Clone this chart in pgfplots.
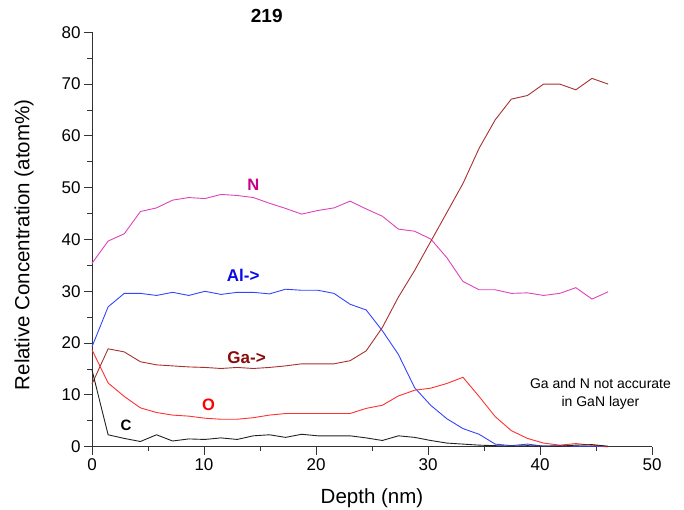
\documentclass[border=0pt]{standalone}
\usepackage{fontspec}
\setmainfont{Liberation Sans}
\usepackage{pgfplots}
\usepackage{pgfplotstable}
\pgfplotsset{compat=1.18}
\definecolor{Ncol}{HTML}{DD44BB}
\definecolor{Nlab}{HTML}{C8008C}
\definecolor{Alcol}{HTML}{3344FF}
\definecolor{Allab}{HTML}{0A0AE6}
\definecolor{Gacol}{HTML}{A83030}
\definecolor{Galab}{HTML}{8B0A0A}
\definecolor{Ocol}{HTML}{FF3030}
\definecolor{Olab}{HTML}{FF0000}
\definecolor{Ccol}{HTML}{222222}

% depth profile, atom%
\pgfplotstableread{
x     N    Al   Ga   O    C
0.00  35.4 19.3 12.1 18.7 14.8
1.44  39.7 27.0 18.9 12.3 2.3
2.88  41.1 29.6 18.3 9.7  1.6
4.32  45.4 29.6 16.4 7.5  1.0
5.76  46.1 29.2 15.8 6.6  2.3
7.20  47.6 29.8 15.6 6.1  1.1
8.64  48.1 29.2 15.4 5.9  1.5
10.08 47.9 30.0 15.3 5.5  1.4
11.52 48.7 29.4 15.1 5.3  1.7
12.96 48.5 29.8 15.3 5.3  1.4
14.40 48.1 29.8 15.1 5.6  2.1
15.84 47.0 29.5 15.3 6.1  2.3
17.28 46.0 30.4 15.6 6.4  1.8
18.72 44.9 30.2 16.0 6.4  2.4
20.16 45.6 30.2 16.0 6.4  2.1
21.60 46.1 29.6 16.0 6.4  2.1
23.04 47.4 27.5 16.6 6.4  2.1
24.48 45.9 26.4 18.5 7.4  1.7
25.92 44.5 22.4 23.0 8.0  1.2
27.36 42.0 17.8 28.9 9.8  2.1
28.80 41.6 11.4 34.0 10.9 1.8
30.24 40.1 8.0  39.6 11.3 1.2
31.68 36.5 5.4  45.2 12.2 0.7
33.12 31.9 3.5  50.8 13.4 0.5
34.56 30.3 2.4  57.6 9.7  0.3
36.00 30.3 0.5  63.1 5.8  0.2
37.44 29.6 0.2  67.1 3.1  0.1
38.88 29.7 0.5  67.8 1.6  0.2
40.32 29.2 0.1  70.0 0.7  0.1
41.76 29.6 0.2  70.0 0.3  0.1
43.20 30.7 0.1  68.9 0.6  0.3
44.64 28.5 0.1  71.1 0.3  0.4
46.08 29.9 0.0  70.0 0.0  0.1
}\profile

\begin{document}
\begin{tikzpicture}
\begin{axis}[
  scale only axis,
  width=560pt, height=414.4pt,
  xmin=0, xmax=50, ymin=0, ymax=80,
  axis x line*=bottom, axis y line*=left,
  axis line style={draw=black!80, line width=0.8pt},
  xtick={0,10,...,50}, ytick={0,10,...,80},
  minor x tick num=1, minor y tick num=1,
  tick align=outside,
  major tick length=8pt, minor tick length=4.5pt,
  tick style={draw=black!80, line width=0.8pt},
  /pgf/number format/assume math mode=true,
  tick label style={font=\fontsize{17}{20}\selectfont},
  label style={font=\fontsize{20.5}{24}\selectfont},
  xlabel={Depth (nm)},
  ylabel={Relative Concentration (atom\%)},
  xlabel style={at={(axis description cs:0.5,-0.1245)}, anchor=center},
  ylabel style={at={(axis description cs:-0.1214,0.487)}, anchor=center},
  clip=false,
  every axis plot/.append style={line width=0.9pt, mark=none},
]
\addplot[Ncol]  table[x=x, y=N]  {\profile};
\addplot[Alcol] table[x=x, y=Al] {\profile};
\addplot[Gacol] table[x=x, y=Ga] {\profile};
\addplot[Ocol]  table[x=x, y=O]  {\profile};
\addplot[Ccol]  table[x=x, y=C]  {\profile};

\node[font=\bfseries\fontsize{19}{22}\selectfont] at (axis cs:15.6,83.1) {219};
\node[font=\bfseries\fontsize{16.5}{20}\selectfont, text=Nlab]  at (axis cs:14.4,50.5) {N};
\node[font=\bfseries\fontsize{17}{20}\selectfont, text=Allab] at (axis cs:13.5,33.0) {Al->};
\node[font=\bfseries\fontsize{17}{20}\selectfont, text=Galab] at (axis cs:13.8,17.2) {Ga->};
\node[font=\bfseries\fontsize{16.5}{20}\selectfont, text=Olab] at (axis cs:10.4,8.05) {O};
\node[font=\bfseries\fontsize{15}{18}\selectfont] at (axis cs:3.04,4.13) {C};
\node[font=\fontsize{14}{17.7}\selectfont, align=center] at (axis cs:45.4,10.2)
  {Ga and N not accurate\\in GaN layer};

\coordinate (ll) at (rel axis cs:0,0);
\coordinate (ur) at (rel axis cs:1,1);
\end{axis}
\pgfresetboundingbox
\path ([shift={(-92pt,-63.3pt)}]ll) rectangle ([shift={(32pt,32.3pt)}]ur);
\end{tikzpicture}
\end{document}
